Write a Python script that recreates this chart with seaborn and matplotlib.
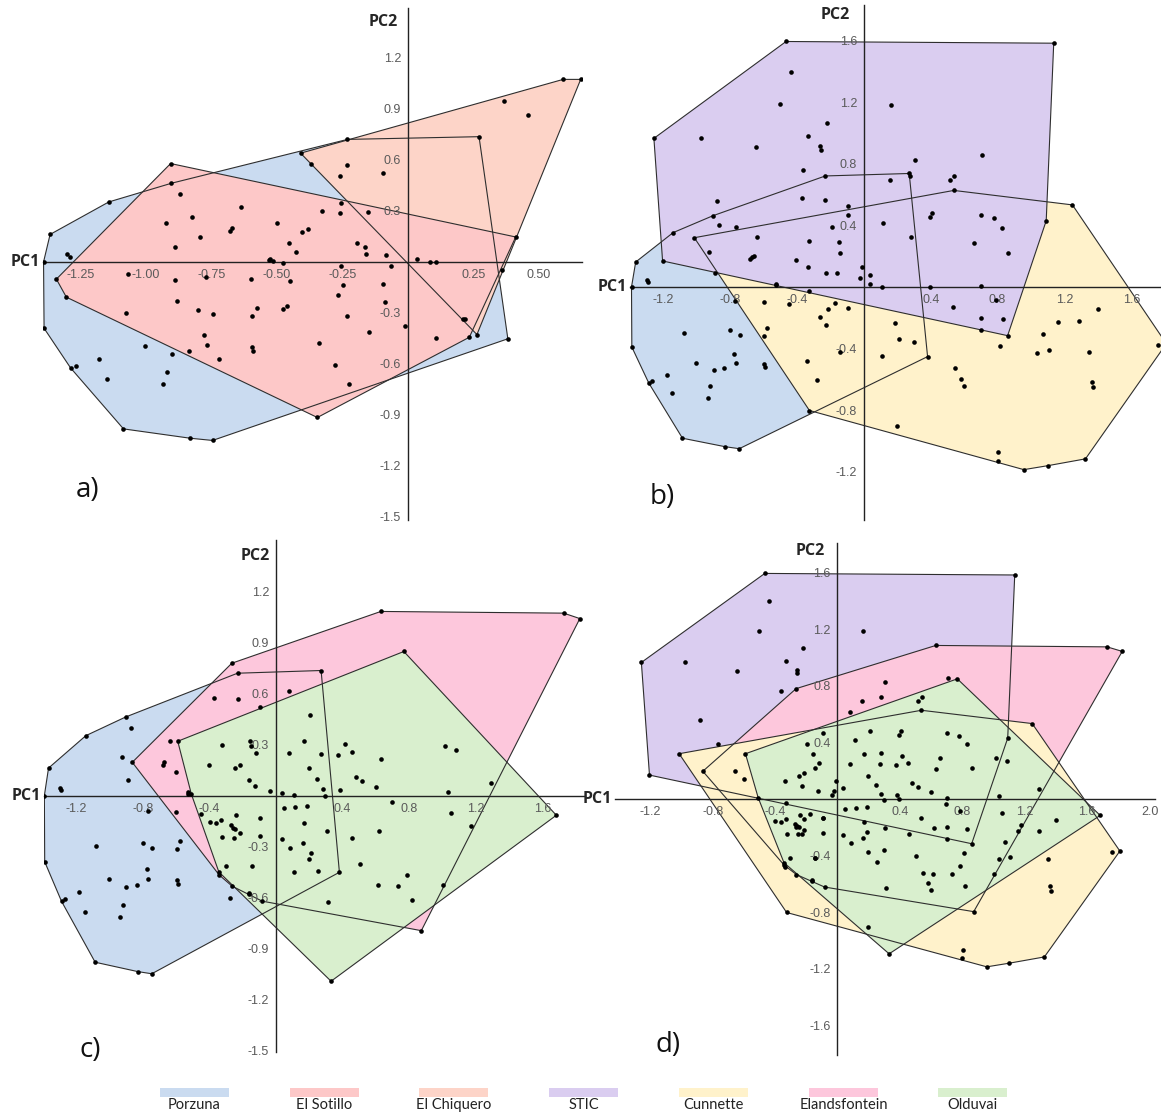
import numpy as np
import matplotlib
matplotlib.use("Agg")
import matplotlib.pyplot as plt
from matplotlib.patches import Rectangle
import seaborn as sns

# PCA scores per site (PC1, PC2)
porzuna = [
    (-1.391, 0.000), (-1.366, 0.162), (-1.142, 0.353), (-0.903, 0.463), (-0.231, 0.721),
    (0.271, 0.737), (0.381, -0.452), (-0.746, -1.050), (-0.831, -1.037), (-1.086, -0.982),
    (-1.288, -0.623), (-1.389, -0.390),
    (-1.300, 0.046), (-1.290, 0.031), (-1.078, -0.300), (-1.181, -0.570), (-1.267, -0.612),
    (-1.148, -0.686), (-1.003, -0.492), (-0.934, -0.718), (-0.920, -0.646), (-0.900, -0.541),
    (-0.836, -0.524), (-0.800, -0.281), (-0.744, -0.309), (-0.777, -0.432), (-0.768, -0.491),
    (-0.596, -0.500), (-0.591, -0.522), (-0.596, -0.316), (-0.578, -0.268), (-0.925, 0.228),
    (-0.889, 0.089), (-0.869, 0.401), (-0.680, 0.180), (-0.672, 0.197), (-0.638, 0.322),
    (-0.529, 0.010), (-0.526, 0.020), (-0.405, 0.178), (-0.372, 0.575), (-0.327, 0.298),
    (-0.231, 0.568), (-0.164, 0.090), (-0.152, 0.292), (-0.096, 0.524), (0.108, 0.002),
    (0.035, 0.018), (-0.450, -0.111), (-0.600, -0.099), (-0.771, -0.089), (0.107, -0.449),
    (0.211, -0.338), (-0.278, -0.604),
]
el_sotillo = [
    (-0.906, 0.579), (-1.342, -0.101), (-1.304, -0.207), (-0.346, -0.915), (0.234, -0.443),
    (0.411, 0.147),
    (-0.823, 0.264), (-0.794, 0.147), (-0.499, 0.229), (-0.453, 0.109), (-0.429, 0.056),
    (-0.381, 0.195), (-0.260, 0.290), (-0.196, 0.113), (-0.160, 0.044), (-0.084, 0.040),
    (-0.254, 0.346), (-0.066, -0.022), (-0.478, -0.006), (-0.462, -0.260), (-0.476, -0.274),
    (-0.720, -0.571), (-0.880, -0.229), (-0.890, -0.107), (-1.068, -0.072), (-0.255, -0.022),
    (-0.248, -0.137), (-0.267, -0.195), (-0.232, -0.320), (-0.225, -0.720), (-0.341, -0.475),
    (-0.149, -0.412), (-0.094, -0.131), (-0.087, -0.237), (-0.010, -0.374), (0.218, -0.338),
    (-0.515, 0.008),
]
el_chiquero = [
    (-0.410, 0.640), (0.592, 1.074), (0.659, 1.074), (0.263, -0.427),
    (0.368, 0.948), (0.457, 0.867), (-0.261, 0.503), (0.084, 0.000), (0.359, -0.046),
]
stic = [
    (-0.466, 1.594), (1.136, 1.583), (1.091, 0.430), (0.860, -0.316), (-1.205, 0.169),
    (-1.257, 0.965),
    (-0.437, 1.399), (-0.500, 1.186), (0.164, 1.184), (-0.220, 1.066), (-0.977, 0.965),
    (-0.332, 0.978), (-0.260, 0.914), (-0.258, 0.892), (-0.643, 0.906), (-0.363, 0.761),
    (0.708, 0.857), (0.305, 0.827), (0.517, 0.693), (0.540, 0.721), (0.159, 0.693),
    (0.276, 0.721), (-0.880, 0.561), (-0.096, 0.465), (-0.768, 0.392), (-0.334, 0.129),
    (-0.193, 0.392), (-0.146, 0.221), (-0.228, 0.090), (0.114, 0.417), (0.282, 0.325),
    (0.394, 0.452), (0.408, 0.480), (0.699, 0.465), (0.777, 0.447), (0.829, 0.386),
    (0.656, 0.287), (0.862, 0.221), (0.703, 0.007), (0.703, -0.200), (0.831, -0.211),
    (0.533, -0.132), (0.394, 0.002), (-0.025, 0.057), (-0.011, 0.127), (0.034, 0.081),
    (-0.331, -0.028), (0.788, -0.087),
]
cunnette = [
    (-1.015, 0.320), (0.538, 0.627), (1.248, 0.533), (1.810, -0.368), (1.326, -1.116),
    (1.102, -1.160), (0.957, -1.186), (0.800, -1.127), (-0.326, -0.802),
    (-0.660, 0.200), (-0.176, -0.104), (-0.212, -0.143), (-0.094, -0.134), (-0.265, -0.195),
    (-0.226, -0.247), (-0.339, -0.482), (-0.146, -0.419), (0.188, -0.234), (0.298, -0.358),
    (0.196, -0.905), (0.814, -0.380), (1.074, -0.304), (1.160, -0.228), (1.290, -0.223),
    (1.398, -0.145), (1.034, -0.427), (1.108, -0.408), (1.350, -0.423), (1.758, -0.375),
    (1.364, -0.614), (1.370, -0.651), (0.548, -0.523), (0.580, -0.597), (0.600, -0.644),
    (0.804, -1.069), (0.703, -0.281),
]
elandsfontein = [
    (-0.863, 0.196), (-0.265, 0.780), (0.630, 1.085), (1.728, 1.075), (1.825, 1.043),
    (0.873, -0.796), (-0.083, -0.622), (-0.162, -0.580), (-0.263, -0.534), (-0.341, -0.468),
    (0.081, 0.615), (-0.602, 0.138), (-0.164, -0.572),
]
olduvai = [
    (-0.590, 0.320), (0.768, 0.849), (1.684, -0.116), (0.331, -1.094), (-0.343, -0.450),
    (-0.508, 0.008),
    (0.206, 0.477), (-0.398, -0.155), (-0.362, -0.159), (-0.333, -0.141), (-0.246, 0.165),
    (-0.214, 0.183), (-0.158, 0.320), (-0.121, 0.251), (-0.127, 0.055), (-0.036, 0.026),
    (0.077, 0.248), (0.168, 0.320), (0.198, 0.163), (0.246, 0.098), (0.271, 0.246),
    (0.281, 0.037), (0.297, -0.004), (0.372, 0.242), (0.384, 0.031), (0.414, 0.306),
    (0.048, -0.073), (0.117, -0.065), (0.186, -0.059), (-0.093, -0.134), (-0.242, -0.112),
    (-0.273, -0.175), (-0.257, -0.191), (-0.244, -0.195), (-0.214, -0.218), (-0.323, -0.244),
    (-0.250, -0.250), (-0.093, -0.238), (0.034, -0.255), (0.085, -0.308), (0.162, -0.279),
    (0.168, -0.161), (0.198, -0.375), (0.307, -0.208), (0.253, -0.444), (-0.145, -0.415),
    (-0.303, -0.415), (0.313, -0.627), (0.454, 0.255), (0.480, 0.110), (0.518, 0.088),
    (0.632, 0.214), (0.600, 0.049), (0.694, -0.037), (1.014, 0.293), (1.084, 0.267),
    (1.034, 0.022), (1.054, -0.100), (1.294, 0.073), (1.174, -0.181), (0.620, -0.206),
    (0.458, -0.248), (0.504, -0.405), (0.610, -0.528), (0.734, -0.532), (0.784, -0.470),
    (0.816, -0.613), (1.004, -0.527),
]

sites = ["Porzuna", "El Sotillo", "El Chiquero", "STIC", "Cunnette", "Elandsfontein", "Olduvai"]
site_colors = ["#cadbf0", "#fdc8c8", "#fdd4c8", "#dacdf0", "#fff2cb", "#fdc7dc", "#d9efce"]
site_data = dict(zip(sites, [porzuna, el_sotillo, el_chiquero, stic, cunnette, elandsfontein, olduvai]))
site_col = dict(zip(sites, site_colors))

# panel contents in drawing order
panel_sites = {
    "a": ["Porzuna", "El Chiquero", "El Sotillo"],
    "b": ["Porzuna", "Cunnette", "STIC"],
    "c": ["Porzuna", "Elandsfontein", "Olduvai"],
    "d": ["STIC", "Elandsfontein", "Cunnette", "Olduvai"],
}
a_xticks = [-1.25, -1.0, -0.75, -0.5, -0.25, 0.25, 0.5]
a_yticks = [1.2, 0.9, 0.6, 0.3, -0.3, -0.6, -0.9, -1.2, -1.5]
b_xticks = [-1.2, -0.8, -0.4, 0.4, 0.8, 1.2, 1.6]
b_yticks = [1.6, 1.2, 0.8, 0.4, -0.4, -0.8, -1.2]
c_xticks = [-1.2, -0.8, -0.4, 0.4, 0.8, 1.2, 1.6]
c_yticks = [1.2, 0.9, 0.6, 0.3, -0.3, -0.6, -0.9, -1.2, -1.5]
d_xticks = [-1.2, -0.8, -0.4, 0.4, 0.8, 1.2, 1.6, 2.0]
d_yticks = [1.6, 1.2, 0.8, 0.4, -0.4, -0.8, -1.2, -1.6]


def convex_hull(pts):
    p = sorted(set(pts))

    def cross(o, a, b):
        return (a[0] - o[0]) * (b[1] - o[1]) - (a[1] - o[1]) * (b[0] - o[0])

    lower, upper = [], []
    for q in p:
        while len(lower) >= 2 and cross(lower[-2], lower[-1], q) <= 0:
            lower.pop()
        lower.append(q)
    for q in reversed(p):
        while len(upper) >= 2 and cross(upper[-2], upper[-1], q) <= 0:
            upper.pop()
        upper.append(q)
    return np.array(lower[:-1] + upper[:-1])


sns.set_theme(style="white")
plt.rcParams["font.family"] = ["Liberation Sans", "DejaVu Sans"]

W, H = 1161, 1115
fig = plt.figure(figsize=(W / 100, H / 100), dpi=100)

# (left, right, top, bottom) in pixels, xlim, ylim, ticks, tick format, PC2 offset, letter pos
layout = {
    "a": ((42.5, 582, 8, 520), (-1.395, 0.664), (-1.518, 1.494), a_xticks, a_yticks, "%.2f", (-10, -14), (88, 490)),
    "b": ((630, 1161, 5, 520), (-1.40, 1.778), (-1.513, 1.831), b_xticks, b_yticks, "%.1f", (-14, -10), (662, 497)),
    "c": ((43.7, 585, 540, 1052), (-1.395, 1.856), (-1.511, 1.506), c_xticks, c_yticks, "%.1f", (-6, -16), (90, 1050)),
    "d": ((615, 1155, 543, 1055), (-1.426, 2.035), (-1.809, 1.809), d_xticks, d_yticks, "%.1f", (-13, -8), (668, 1045)),
}

for key, (box, xl, yl, xt, yt, fmt, pc2off, letter) in layout.items():
    L, R, T, B = box
    ax = fig.add_axes([L / W, 1 - B / H, (R - L) / W, (B - T) / H])
    ax.set_facecolor("none")
    ax.set_axisbelow(False)
    for i, s in enumerate(panel_sites[key]):
        hv = convex_hull(site_data[s])
        ax.fill(hv[:, 0], hv[:, 1], facecolor=site_col[s], edgecolor="none", zorder=1.0 + 0.1 * i)
    for s in panel_sites[key]:
        hv = convex_hull(site_data[s])
        hv = np.vstack([hv, hv[:1]])
        ax.plot(hv[:, 0], hv[:, 1], color="#2e2e2e", lw=0.8, zorder=2)
    pts = np.array([p for s in panel_sites[key] for p in site_data[s]])
    sns.scatterplot(x=pts[:, 0], y=pts[:, 1], color="black", s=11, linewidth=0, ax=ax, zorder=3)

    ax.set_xlim(*xl)
    ax.set_ylim(*yl)
    ax.set_xticks(xt)
    ax.set_yticks(yt)
    ax.set_xticklabels([fmt % v for v in xt])
    ax.set_yticklabels(["%.1f" % v for v in yt])
    for side in ["top", "right"]:
        ax.spines[side].set_visible(False)
    for side in ["left", "bottom"]:
        ax.spines[side].set_position(("data", 0))
        ax.spines[side].set_color("#222222")
        ax.spines[side].set_linewidth(1.0)
    ax.tick_params(axis="both", direction="out", length=3, width=0.8, color="#444444",
                   labelcolor="#5a5a5a", labelsize=9, pad=2)
    ax.set_xlabel("")
    ax.set_ylabel("")

    ax.annotate("PC1", xy=(xl[0], 0), xytext=(-3, 0), textcoords="offset pixels",
                ha="right", va="center", fontsize=11.5, fontweight="bold",
                family=["Open Sans", "DejaVu Sans"], annotation_clip=False)
    ax.annotate("PC2", xy=(0, yl[1]), xytext=pc2off, textcoords="offset pixels",
                ha="right", va="center", fontsize=11.5, fontweight="bold",
                family=["Open Sans", "DejaVu Sans"], annotation_clip=False)
    fig.text(letter[0] / W, 1 - letter[1] / H, key + ")", fontsize=20, ha="center", va="center",
             family=["Open Sans", "DejaVu Sans"], color="#111111")

# legend strip at the bottom
leg = fig.add_axes([0, 0, 1, 1], zorder=-1)
leg.set_xlim(0, W)
leg.set_ylim(H, 0)
leg.axis("off")
leg_x = [160, 290, 419, 549, 679, 809, 938]
for x, s, c in zip(leg_x, sites, site_colors):
    leg.add_patch(Rectangle((x, 1088), 69, 9, facecolor=c, edgecolor="none"))
    leg.text(x + 34.5, 1105, s, ha="center", va="center", fontsize=10.5,
             family=["Lato", "DejaVu Sans"], color="#222222")

fig.savefig("out.png", dpi=100)
